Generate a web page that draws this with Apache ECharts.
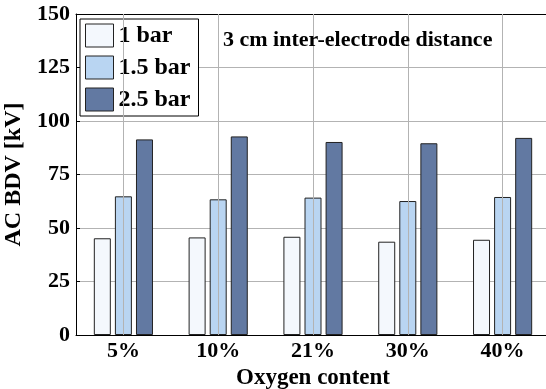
<!DOCTYPE html>
<html>
<head>
<meta charset="utf-8">
<script src="https://cdn.jsdelivr.net/npm/echarts@6/dist/echarts.min.js"></script>
<style>
  html, body { margin: 0; padding: 0; background: #fff; }
  #chart { width: 546px; height: 389px; }
</style>
</head>
<body>
<div id="chart"></div>
<script>
// oxygen content categories
const categories = ['5%', '10%', '21%', '30%', '40%'];
// AC breakdown voltage [kV] per pressure
const bar1 = [45.2, 45.6, 45.9, 43.6, 44.5];
const bar15 = [64.8, 63.4, 64.2, 62.6, 64.5];
const bar25 = [91.4, 92.8, 90.2, 89.6, 92.1];
const seriesNames = ['1 bar', '1.5 bar', '2.5 bar'];
const yTicks = [0, 25, 50, 75, 100, 125, 150];

const FONT = '"Liberation Serif", "Times New Roman", serif';
const colors = ['#f4f8fd', '#b9d5f2', '#6279a2'];

const chart = echarts.init(document.getElementById('chart'));

const makeBar = (name, data, i) => ({
  name: name,
  type: 'bar',
  z: 2,
  data: data,
  barWidth: 17,
  barGap: '24%',
  itemStyle: { color: colors[i], borderColor: '#222', borderWidth: 1 }
});

// vertical grid lines sit on the category centres (matlab style)
const centreLines = {
  type: 'line',
  z: 1,
  data: categories.map(() => null),
  silent: true,
  markLine: {
    silent: true,
    symbol: 'none',
    label: { show: false },
    lineStyle: { color: '#b3b3b3', width: 1, type: 'solid' },
    data: categories.map(c => ({ xAxis: c }))
  }
};

chart.setOption({
  animation: false,
  textStyle: { fontFamily: FONT },
  grid: { left: 76, top: 14, width: 474, height: 321, outerBoundsMode: 'none' },
  legend: {
    orient: 'vertical',
    left: 80,
    top: 19,
    padding: [4, 8, 4, 5],
    icon: 'rect',
    itemWidth: 28,
    itemHeight: 23,
    itemGap: 7,
    backgroundColor: '#fff',
    borderColor: '#000',
    borderWidth: 1,
    textStyle: { fontFamily: FONT, fontWeight: 'bold', fontSize: 24, lineHeight: 23, color: '#000', padding: [2, 0, 0, 0] },
    itemStyle: { borderColor: '#222', borderWidth: 1 },
    data: seriesNames
  },
  graphic: [{
    type: 'text',
    left: 223,
    top: 29,
    z: 100,
    style: {
      text: '3 cm inter-electrode distance',
      font: 'bold 22px ' + FONT,
      fill: '#000'
    }
  }],
  xAxis: [{
    type: 'category',
    data: categories,
    position: 'bottom',
    boundaryGap: true,
    name: 'Oxygen content',
    nameLocation: 'middle',
    nameGap: 28,
    nameTextStyle: { fontFamily: FONT, fontWeight: 'bold', fontSize: 23, color: '#000' },
    axisLine: { lineStyle: { color: '#000', width: 1 } },
    axisTick: { show: false },
    axisLabel: { fontFamily: FONT, fontWeight: 'bold', fontSize: 22, color: '#000', margin: 5 },
    splitLine: { show: false }
  }, {
    type: 'category',
    data: categories,
    position: 'top',
    boundaryGap: true,
    axisLine: { lineStyle: { color: '#000', width: 1 } },
    axisTick: { show: true, inside: true, alignWithLabel: true, length: 4, lineStyle: { color: '#000' } },
    axisLabel: { show: false },
    splitLine: { show: false }
  }],
  yAxis: {
    type: 'value',
    min: yTicks[0],
    max: yTicks[yTicks.length - 1],
    interval: 25,
    name: 'AC BDV [kV]',
    nameLocation: 'middle',
    nameGap: 47,
    nameTextStyle: { fontFamily: FONT, fontWeight: 'bold', fontSize: 24, color: '#000' },
    axisLine: { show: true, lineStyle: { color: '#000', width: 1 } },
    axisTick: { show: true, inside: true, length: 4, lineStyle: { color: '#000' } },
    axisLabel: { fontFamily: FONT, fontWeight: 'bold', fontSize: 22, color: '#000', margin: 6 },
    splitLine: { show: true, lineStyle: { color: '#b3b3b3', width: 1 } }
  },
  series: [
    centreLines,
    makeBar(seriesNames[0], bar1, 0),
    makeBar(seriesNames[1], bar15, 1),
    makeBar(seriesNames[2], bar25, 2)
  ]
});
</script>
</body>
</html>
